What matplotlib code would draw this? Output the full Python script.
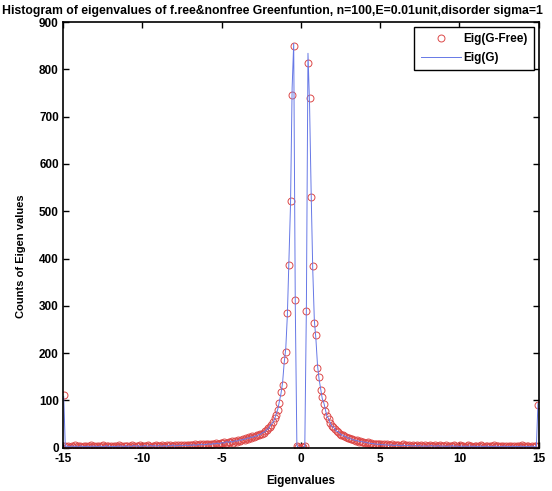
import numpy as np
import matplotlib
matplotlib.use("Agg")
import matplotlib.pyplot as plt

plt.rcParams['font.family'] = ['Liberation Sans', 'DejaVu Sans']
plt.rcParams['axes.unicode_minus'] = False

# 300 bins of width 0.1 spanning [-15, 15]
bin_edges = np.linspace(-15, 15, 301)
bin_centers = (bin_edges[:-1] + bin_edges[1:]) / 2

# histogram counts, eigenvalues of the free Green's function
counts_free = [
    112, 3, 2, 4, 1, 3, 2, 5, 2, 3, 4, 2, 1, 3, 4, 2, 3, 5, 2, 3,
    2, 4, 3, 1, 3, 5, 2, 3, 4, 2, 3, 1, 4, 3, 2, 5, 3, 2, 4, 3,
    3, 2, 4, 5, 3, 2, 4, 3, 5, 2, 4, 3, 3, 5, 4, 2, 4, 3, 5, 4,
    4, 3, 5, 4, 2, 5, 4, 6, 3, 4, 5, 3, 6, 4, 5, 4, 6, 3, 5, 6,
    5, 6, 4, 7, 5, 6, 8, 5, 7, 6, 8, 7, 6, 9, 7, 8, 10, 7, 9, 11,
    10, 12, 9, 11, 13, 12, 14, 11, 15, 13, 16, 14, 17, 19, 16, 20, 18, 22, 21, 24,
    23, 24, 26, 27, 29, 30, 32, 35, 38, 42, 45, 49, 55, 62, 70, 80, 95, 118, 133, 186,
    203, 285, 387, 522, 746, 850, 313, 3, 1, 0, 1, 2, 4, 290, 813, 740, 530, 385, 264, 239,
    169, 150, 122, 108, 92, 78, 68, 60, 52, 47, 43, 39, 36, 33, 30, 28, 26, 25, 23, 21,
    20, 18, 19, 16, 15, 16, 13, 14, 12, 13, 11, 10, 12, 9, 10, 8, 9, 7, 8, 7,
    7, 6, 8, 5, 7, 6, 5, 7, 4, 6, 5, 6, 4, 5, 7, 4, 5, 3, 6, 4,
    5, 3, 4, 6, 3, 5, 4, 2, 5, 4, 3, 5, 4, 3, 6, 2, 4, 5, 3, 4,
    3, 5, 2, 4, 3, 4, 6, 3, 2, 4, 5, 3, 4, 2, 3, 5, 4, 3, 2, 4,
    3, 2, 4, 5, 3, 2, 4, 3, 1, 4, 3, 5, 2, 3, 4, 2, 3, 4, 2, 3,
    2, 4, 3, 1, 3, 2, 4, 3, 2, 5, 3, 2, 3, 4, 1, 3, 2, 4, 3, 91,
]

# histogram counts, eigenvalues of the disordered Green's function
counts_g = [
    108, 2, 4, 3, 2, 4, 3, 2, 4, 1, 3, 4, 2, 3, 2, 4, 2, 3, 4, 2,
    4, 2, 3, 4, 2, 3, 3, 5, 2, 4, 2, 3, 3, 2, 4, 3, 4, 3, 2, 5,
    2, 4, 3, 3, 5, 4, 3, 5, 2, 4, 3, 5, 4, 3, 4, 5, 3, 5, 4, 3,
    5, 4, 3, 5, 4, 3, 5, 4, 5, 6, 3, 5, 4, 6, 4, 5, 5, 6, 4, 5,
    6, 5, 7, 5, 6, 7, 6, 8, 6, 7, 7, 8, 8, 7, 9, 8, 9, 10, 8, 10,
    11, 10, 12, 13, 11, 14, 12, 13, 15, 14, 15, 17, 16, 18, 18, 19, 21, 20, 23, 22,
    24, 25, 25, 28, 28, 31, 33, 34, 39, 40, 46, 50, 54, 61, 72, 82, 98, 115, 138, 180,
    210, 280, 395, 515, 760, 855, 300, 5, 0, 1, 0, 1, 3, 300, 834, 725, 540, 378, 270, 230,
    175, 145, 125, 104, 95, 80, 66, 62, 53, 46, 44, 40, 35, 34, 31, 27, 27, 24, 24, 20,
    21, 19, 17, 17, 15, 15, 14, 13, 13, 12, 12, 11, 10, 10, 9, 9, 8, 8, 7, 8,
    6, 7, 6, 6, 6, 5, 6, 6, 5, 5, 6, 5, 5, 4, 6, 5, 4, 5, 5, 4,
    4, 4, 5, 3, 5, 4, 3, 4, 4, 3, 4, 4, 5, 3, 4, 3, 5, 3, 4, 3,
    4, 3, 3, 4, 3, 5, 3, 3, 4, 3, 3, 4, 2, 4, 3, 3, 4, 3, 3, 4,
    2, 3, 3, 4, 2, 3, 3, 4, 2, 3, 3, 2, 4, 3, 3, 2, 3, 3, 4, 2,
    3, 3, 2, 4, 2, 3, 3, 2, 4, 3, 3, 2, 3, 3, 2, 4, 3, 2, 3, 94,
]

x_ticks = [-15, -10, -5, 0, 5, 10, 15]
y_ticks = [0, 100, 200, 300, 400, 500, 600, 700, 800, 900]

fig = plt.figure(figsize=(5.52, 4.91), dpi=100)
ax = fig.add_axes([0.114, 0.088, 0.862, 0.867])

ax.plot(bin_centers, counts_free, 'o', mfc='none', mec='#dc4848',
        ms=5, mew=0.7, label='Eig(G-Free)')
ax.plot(bin_centers, counts_g, '-', color='#6678e6', lw=0.7,
        label='Eig(G)')

ax.set_xlim(-15, 15)
ax.set_ylim(0, 900)
ax.set_xticks(x_ticks)
ax.set_yticks(y_ticks)
ax.tick_params(direction='in', top=True, right=True, length=4,
               width=1, labelsize=8.5)
ax.tick_params(axis='x', pad=4)
ax.tick_params(axis='y', pad=3)
for lab in ax.get_xticklabels() + ax.get_yticklabels():
    lab.set_fontweight('bold')
for sp in ax.spines.values():
    sp.set_linewidth(1.2)

ax.set_xlabel('Eigenvalues', fontsize=8.5, fontweight='bold', labelpad=7)
ax.set_ylabel('Counts of Eigen values', fontsize=8, fontweight='bold')
ax.yaxis.set_label_coords(-0.078, 0.45)

fig.text(0.004, 0.978,
         'Histogram of eigenvalues of f.ree&nonfree Greenfuntion, '
         'n=100,E=0.01unit,disorder sigma=1',
         fontsize=8.8, fontweight='bold', ha='left', va='center')

leg = ax.legend(loc='upper right', fontsize=8.5, fancybox=False,
                edgecolor='black', framealpha=1, borderaxespad=0.4,
                handlelength=3.4, handletextpad=0.2, borderpad=0.55,
                labelspacing=0.55)
leg.get_frame().set_linewidth(1.0)
for t in leg.get_texts():
    t.set_fontweight('bold')

fig.savefig('out.png', dpi=100)
